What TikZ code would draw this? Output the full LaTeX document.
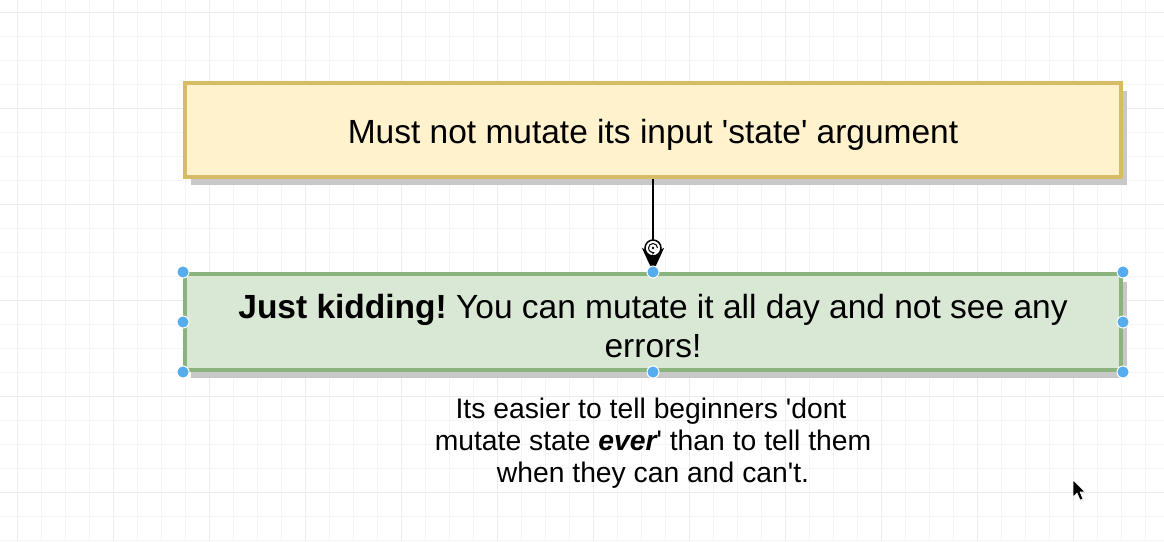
\documentclass[tikz,border=0pt]{standalone}
\usepackage{fontspec}
\setmainfont{Liberation Sans}
\usetikzlibrary{arrows.meta,shadows}
\definecolor{ylfill}{HTML}{FFF2CC}
\definecolor{yldraw}{HTML}{D8BC64}
\definecolor{grfill}{HTML}{D9E8D5}
\definecolor{grdraw}{HTML}{8BB37D}
\definecolor{gridminor}{HTML}{F5F5F5}
\definecolor{gridmajor}{HTML}{ECECEC}
\definecolor{handlec}{HTML}{55ACEE}
\definecolor{shadowc}{HTML}{C8C8C8}
\newcommand\sq{\textquotesingle}
\frenchspacing
\begin{document}
\begin{tikzpicture}[x=1pt,y=-1pt,
  boxbase/.style={rectangle, line width=4pt, minimum width=936pt, inner sep=0pt,
    drop shadow={shadow xshift=6pt, shadow yshift=-8pt, fill=shadowc, opacity=1}},
  ybox/.style={boxbase, draw=yldraw, fill=ylfill, minimum height=94pt},
  gbox/.style={boxbase, draw=grdraw, fill=grfill, minimum height=96pt},
  bigtxt/.style={anchor=base, inner sep=0pt, font=\fontsize{33.5}{40}\selectfont},
  smalltxt/.style={anchor=base, inner sep=0pt, font=\fontsize{28.3}{32}\selectfont},
  conn/.style={line width=2pt, black, -{Stealth[length=24pt, width=22pt, inset=6pt]}},
  handle/.style={fill=handlec, draw=white, line width=1pt},
  minorline/.style={draw=gridminor, line width=1pt},
  majorline/.style={draw=gridmajor, line width=1pt}]
\useasboundingbox (0,0) rectangle (1164,541);
\fill[white] (0,0) rectangle (1164,541);
% grid
\foreach \i in {0,...,47} \draw[minorline] ({17+24*\i},0) -- ({17+24*\i},541);
\foreach \i in {0,...,22} \draw[minorline] (0,{12+24*\i}) -- (1164,{12+24*\i});
\foreach \i in {0,...,11} \draw[majorline] ({17+96*\i},0) -- ({17+96*\i},541);
\foreach \i in {0,...,5} \draw[majorline] (0,{12+96*\i}) -- (1164,{12+96*\i});
% boxes
\node[ybox] (state) at (653,130) {};
\node[gbox] (kid) at (653,322) {};
% texts
\node[bigtxt] (t1) at (653,143) {Must not mutate its input \sq state\sq\ argument};
\node[bigtxt] (k1) at (653,318) {{\bfseries Just kidding!} You can mutate it all day and not see any};
\node[bigtxt] (k2) at (653,357) {errors!};
\node[smalltxt] (n1) at (651,418) {Its easier to tell beginners \sq dont};
\node[smalltxt] (n2) at (653,450) {mutate state {\bfseries\itshape ever}\sq\ than to tell them};
\node[smalltxt] (n3) at (653,482) {when they can and can\sq t.};
% connector
\draw[conn] (state.south) -- (kid.north);
\node[circle, draw=black, fill=white, line width=1.5pt, minimum size=16pt, inner sep=0pt] (icon) at (653,248) {};
\draw[line width=1pt, -{Stealth[length=3pt,width=3.5pt]}] ([shift={(4.5,0)}]icon.center) arc[start angle=0, end angle=290, radius=4.5pt];
\fill[black] (icon.center) circle (1.3pt);
% selection handles
\foreach \p in {north west, west, south west, north, south, north east, east, south east}
  \filldraw[handle] (kid.\p) circle (6pt);
% cursor
\filldraw[fill=black, draw=white, line width=0.6pt, line join=round]
  (1073,480) -- (1073,497) -- (1077,493) -- (1080,500) -- (1083,499) -- (1080,492) -- (1085,492) -- cycle;
\end{tikzpicture}
\end{document}
